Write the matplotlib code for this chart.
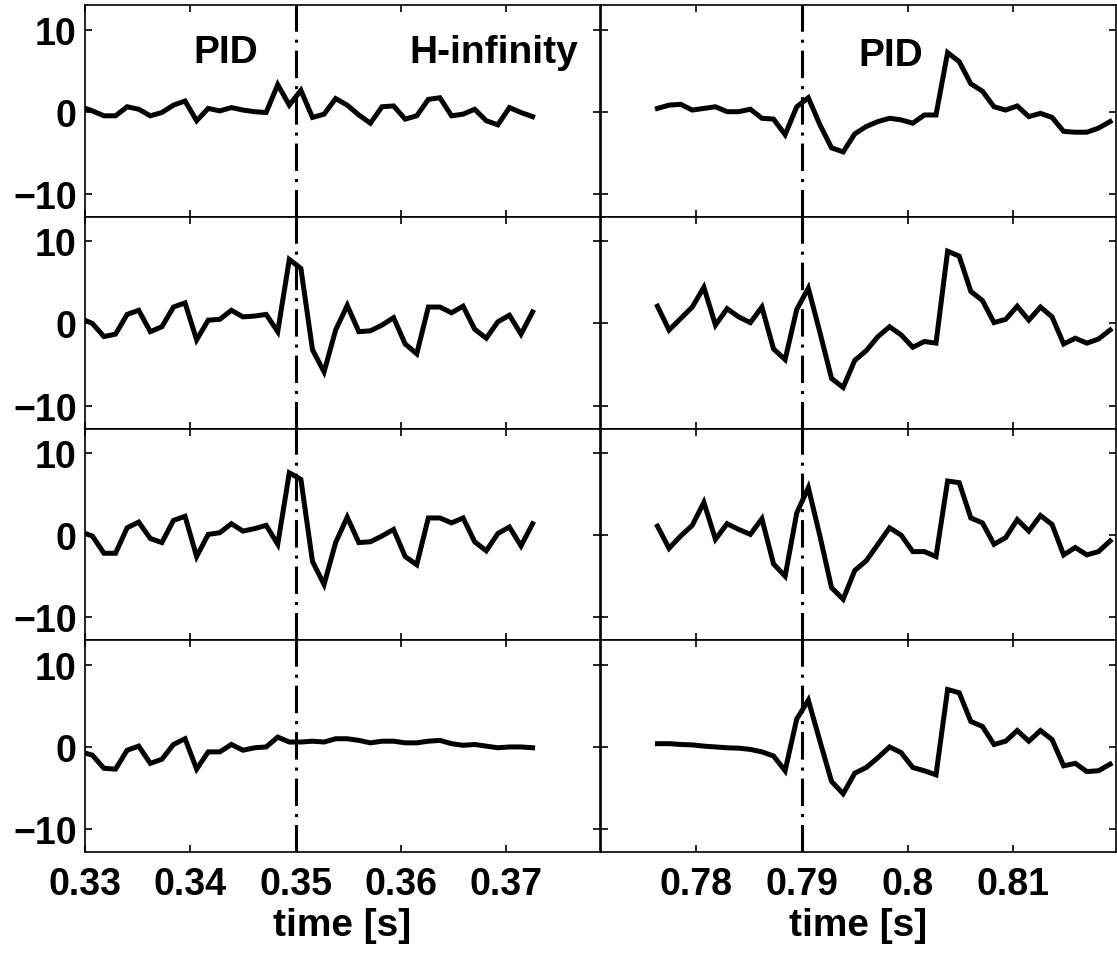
import numpy as np
import matplotlib
matplotlib.use("Agg")
import matplotlib.pyplot as plt

# ---------------- data ----------------
dt = 0.0011                 # sampling interval [s]
t0_left = 0.3296            # first sample, left column
t0_right = 0.7763           # first sample, right column

left_row1 = [0.6, 0.1, -0.5, -0.5, 0.6, 0.3, -0.5, -0.1, 0.8, 1.3,
             -1.1, 0.4, 0.1, 0.5, 0.2, 0.0, -0.1, 3.3, 0.8, 2.6,
             -0.7, -0.3, 1.6, 0.8, -0.4, -1.4, 0.6, 0.7, -0.9, -0.5,
             1.5, 1.7, -0.5, -0.3, 0.3, -1.1, -1.6, 0.5, -0.1, -0.6]
left_row2 = [0.6, 0.0, -1.6, -1.3, 1.1, 1.6, -1.0, -0.4, 2.0, 2.5,
             -2.0, 0.4, 0.5, 1.6, 0.8, 0.9, 1.1, -1.0, 7.8, 6.7,
             -3.2, -5.9, -0.8, 2.2, -1.0, -0.9, -0.2, 0.7, -2.5, -3.7,
             2.0, 2.0, 1.3, 2.1, -0.7, -1.8, 0.2, 1.0, -1.3, 1.4]
left_row3 = [0.4, -0.1, -2.2, -2.2, 0.9, 1.6, -0.4, -0.9, 1.8, 2.3,
             -2.6, 0.1, 0.3, 1.4, 0.5, 0.8, 1.2, -1.1, 7.6, 6.8,
             -3.2, -6.0, -0.9, 2.2, -0.9, -0.8, -0.1, 0.7, -2.6, -3.6,
             2.1, 2.1, 1.5, 2.1, -0.8, -1.9, 0.2, 1.0, -1.3, 1.4]
left_row4 = [-0.6, -1.0, -2.6, -2.7, -0.4, 0.1, -2.0, -1.5, 0.3, 1.0,
             -2.7, -0.6, -0.6, 0.3, -0.4, -0.1, 0.0, 1.2, 0.6, 0.6,
             0.7, 0.6, 1.0, 1.0, 0.8, 0.5, 0.7, 0.7, 0.5, 0.5,
             0.7, 0.8, 0.4, 0.2, 0.3, 0.1, -0.1, 0.0, 0.0, -0.1]

right_row1 = [0.4, 0.8, 0.9, 0.2, 0.4, 0.6, 0.0, 0.0, 0.3, -0.8,
              -0.9, -2.8, 0.6, 1.7, -1.6, -4.4, -4.9, -2.7, -1.8, -1.2,
              -0.8, -1.0, -1.4, -0.4, -0.4, 7.2, 6.1, 3.4, 2.5, 0.6,
              0.2, 0.7, -0.6, -0.2, -0.7, -2.4, -2.5, -2.5, -2.0, -1.2]
right_row2 = [2.1, -0.8, 0.6, 2.0, 4.4, -0.2, 1.8, 0.8, 0.1, 2.0,
              -3.1, -4.4, 1.7, 4.3, -1.1, -6.7, -7.8, -4.5, -3.3, -1.6,
              -0.4, -1.4, -2.9, -2.2, -2.4, 8.8, 8.2, 3.9, 2.8, 0.1,
              0.5, 2.1, 0.4, 2.0, 0.8, -2.5, -1.8, -2.4, -1.9, -0.8]
right_row3 = [1.1, -1.6, -0.1, 1.2, 4.0, -0.5, 1.4, 0.7, 0.1, 2.0,
              -3.5, -5.0, 2.7, 5.8, -0.1, -6.4, -7.8, -4.3, -3.1, -1.1,
              0.9, 0.0, -2.0, -2.0, -2.6, 6.6, 6.4, 2.1, 1.5, -1.1,
              -0.3, 1.9, 0.5, 2.4, 1.3, -2.4, -1.5, -2.4, -2.0, -0.7]
right_row4 = [0.4, 0.4, 0.3, 0.25, 0.1, 0.0, -0.1, -0.15, -0.3, -0.6,
              -1.1, -2.9, 3.4, 5.7, 0.7, -4.2, -5.7, -3.2, -2.5, -1.3,
              0.0, -0.7, -2.5, -2.9, -3.4, 7.0, 6.6, 3.1, 2.5, 0.3,
              0.7, 2.0, 0.7, 2.0, 0.9, -2.3, -2.0, -3.0, -2.9, -2.1]

switch_left = 0.35
switch_right = 0.79

xlim_left = (0.33, 0.3789)
xlim_right = (0.77095, 0.81976)
ylim = (-12.8, 13.0)

xticks_left = [0.33, 0.34, 0.35, 0.36, 0.37]
xticklabels_left = ['0.33', '0.34', '0.35', '0.36', '0.37']
xticks_right = [0.78, 0.79, 0.80, 0.81]
xticklabels_right = ['0.78', '0.79', '0.8', '0.81']
yticks = [-10, 0, 10]
yticklabels = ['\u221210', '0', '10']
xlabel = 'time [s]'

# ---------------- figure ----------------
plt.rcParams['font.family'] = ['Liberation Sans', 'DejaVu Sans']
plt.rcParams['font.weight'] = 'bold'

fig = plt.figure(figsize=(11.17, 9.54), dpi=100)

L_left, L_right, W = 85 / 1117, 601 / 1117, 515 / 1117
bottom0 = 1 - 853 / 954
rowh = (853 - 6) / 4 / 954

left_rows = [left_row1, left_row2, left_row3, left_row4]
right_rows = [right_row1, right_row2, right_row3, right_row4]

dashdot = (0, (9, 2.6, 1.0, 2.6))

for r in range(4):
    b = bottom0 + (3 - r) * rowh
    for c in range(2):
        x0 = L_left if c == 0 else L_right
        ax = fig.add_axes([x0, b, W, rowh])
        vals = left_rows[r] if c == 0 else right_rows[r]
        t0 = t0_left if c == 0 else t0_right
        t = t0 + dt * np.arange(len(vals))
        ax.plot(t, vals, color='black', lw=3.6, solid_joinstyle='miter')
        ax.axvline(switch_left if c == 0 else switch_right, color='black',
                   lw=2.2, linestyle=dashdot)
        ax.set_xlim(xlim_left if c == 0 else xlim_right)
        ax.set_ylim(ylim)
        ax.set_xticks(xticks_left if c == 0 else xticks_right)
        ax.set_yticks(yticks)
        ax.tick_params(direction='in', length=5, width=1.2, top=True,
                       right=True, labelsize=27, pad=6)
        ax.tick_params(axis='x', pad=10)
        if r == 3:
            ax.set_xticklabels(xticklabels_left if c == 0 else xticklabels_right,
                               fontweight='bold')
            ax.set_xlabel(xlabel, fontsize=28, fontweight='bold', labelpad=4)
        else:
            ax.set_xticklabels([])
        if c == 0:
            ax.set_yticklabels(yticklabels, fontweight='bold')
        else:
            ax.set_yticklabels([])
        for s in ax.spines.values():
            s.set_linewidth(1.2)
        if r == 0:
            if c == 0:
                ax.text(0.34332, 6.1, 'PID', ha='center', va='baseline',
                        fontsize=28, fontweight='bold')
                ax.text(0.36877, 6.1, 'H-infinity', ha='center', va='baseline',
                        fontsize=28, fontweight='bold')
            else:
                ax.text(0.79844, 5.7, 'PID', ha='center', va='baseline',
                        fontsize=28, fontweight='bold')

fig.savefig('out.png', dpi=100)
